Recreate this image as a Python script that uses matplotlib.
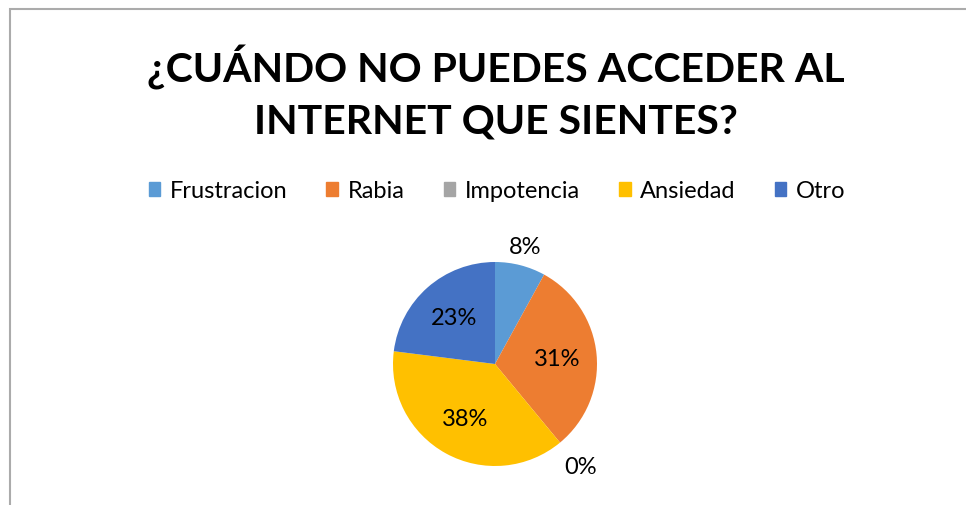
import matplotlib
matplotlib.use("Agg")
import matplotlib.pyplot as plt
import matplotlib.patches as mpatches
import numpy as np

# datos
titulo = "¿CUÁNDO NO PUEDES ACCEDER AL\nINTERNET QUE SIENTES?"
categorias = ["Frustracion", "Rabia", "Impotencia", "Ansiedad", "Otro"]
porcentajes = [8, 31, 0, 38, 23]
colores = ["#5B9BD5", "#ED7D31", "#A5A5A5", "#FFC000", "#4472C4"]

plt.rcParams['font.family'] = ['Lato', 'DejaVu Sans']

W, H = 966, 506
fig = plt.figure(figsize=(W / 100, H / 100), dpi=100)

# marco del grafico (se sale por la derecha y por abajo)
marco = mpatches.Rectangle((10 / W, -0.1), 1.2, 1 - 10 / H + 0.1, transform=fig.transFigure,
                           fill=False, edgecolor="#ABABAB", linewidth=1.5)
fig.patches.append(marco)

fig.text(496 / W, 1 - 93 / H, titulo, ha="center", va="center", fontsize=29.5,
         fontweight="bold", linespacing=1.45, color="black")

# torta
cx, cy, r = 495, 365, 102
ax = fig.add_axes([(cx - r) / W, (H - cy - r) / H, 2 * r / W, 2 * r / H])
wedges, _ = ax.pie(porcentajes, colors=colores, startangle=90, counterclock=False,
                   radius=1, wedgeprops=dict(linewidth=0))
ax.set_xlim(-1, 1)
ax.set_ylim(-1, 1)
ax.set_aspect("equal")
ax.axis("off")

# etiquetas: dentro para las grandes, fuera para las chicas
distancias = [1.19, 0.61, 1.31, 0.61, 0.61]
for w, p, d in zip(wedges, porcentajes, distancias):
    ang = np.deg2rad((w.theta1 + w.theta2) / 2)
    ax.text(d * np.cos(ang), d * np.sin(ang), f"{p}%", ha="center", va="center",
            fontsize=17, color="black", clip_on=False)

handles = [mpatches.Patch(color=c, label=l) for c, l in zip(colores, categorias)]
fig.legend(handles=handles, loc="center", bbox_to_anchor=(497 / W, 1 - 192 / H), ncol=5,
           frameon=False, fontsize=17, handlelength=0.5, handleheight=0.5,
           handletextpad=0.4, columnspacing=1.65)

fig.savefig("out.png", dpi=100)
